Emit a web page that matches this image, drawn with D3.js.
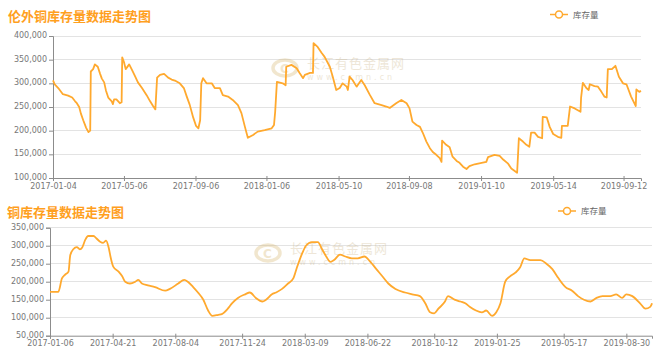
<!DOCTYPE html>
<html><head><meta charset="utf-8">
<script src="https://cdn.jsdelivr.net/npm/d3@7"></script>
<style>
html,body{margin:0;padding:0;background:#fff;}
svg{display:block;}
</style></head>
<body>
<svg id="c" width="658" height="359"></svg>
<script>
// ---------- Chart 1: 伦外铜库存量 ----------
const title1 = "伦外铜库存量数据走势图";
const seriesName = "库存量";
const dates1 = ["2017-01-04","2017-01-07","2017-01-13","2017-01-21","2017-01-30","2017-02-06","2017-02-11","2017-02-14","2017-02-18","2017-02-21","2017-02-25","2017-03-02","2017-03-06","2017-03-09","2017-03-10","2017-03-14","2017-03-17","2017-03-22","2017-03-26","2017-03-29","2017-04-02","2017-04-05","2017-04-09","2017-04-15","2017-04-17","2017-04-19","2017-04-23","2017-04-29","2017-05-02","2017-05-03","2017-05-06","2017-05-09","2017-05-15","2017-05-20","2017-05-25","2017-05-30","2017-06-06","2017-06-14","2017-06-20","2017-06-25","2017-06-29","2017-07-02","2017-07-07","2017-07-14","2017-07-21","2017-07-27","2017-08-03","2017-08-10","2017-08-17","2017-08-22","2017-08-27","2017-09-02","2017-09-07","2017-09-11","2017-09-14","2017-09-16","2017-09-19","2017-09-25","2017-10-04","2017-10-09","2017-10-18","2017-10-23","2017-11-01","2017-11-09","2017-11-18","2017-11-24","2017-11-30","2017-12-05","2017-12-14","2017-12-22","2018-01-03","2018-01-15","2018-01-19","2018-01-21","2018-01-24","2018-02-03","2018-02-08","2018-02-09","2018-02-18","2018-02-27","2018-03-04","2018-03-10","2018-03-13","2018-03-22","2018-03-27","2018-03-28","2018-04-04","2018-04-11","2018-04-16","2018-04-25","2018-04-30","2018-05-06","2018-05-12","2018-05-17","2018-05-24","2018-05-26","2018-05-29","2018-06-03","2018-06-10","2018-06-18","2018-06-24","2018-07-03","2018-07-11","2018-07-23","2018-07-31","2018-08-06","2018-08-17","2018-08-26","2018-09-04","2018-09-09","2018-09-14","2018-09-21","2018-09-27","2018-10-02","2018-10-08","2018-10-14","2018-10-19","2018-10-25","2018-10-31","2018-11-03","2018-11-04","2018-11-11","2018-11-17","2018-11-22","2018-11-29","2018-12-04","2018-12-10","2018-12-16","2018-12-21","2018-12-30","2019-01-11","2019-01-19","2019-01-22","2019-02-02","2019-02-11","2019-02-17","2019-02-25","2019-03-03","2019-03-13","2019-03-16","2019-03-23","2019-03-29","2019-04-03","2019-04-06","2019-04-12","2019-04-18","2019-04-25","2019-04-26","2019-05-03","2019-05-08","2019-05-14","2019-05-22","2019-05-28","2019-05-29","2019-06-08","2019-06-12","2019-06-20","2019-06-30","2019-07-01","2019-07-04","2019-07-10","2019-07-14","2019-07-16","2019-07-24","2019-07-30","2019-08-05","2019-08-10","2019-08-14","2019-08-16","2019-08-23","2019-08-29","2019-09-04","2019-09-11","2019-09-17","2019-09-25","2019-10-03","2019-10-04","2019-10-09","2019-10-12"];
const values1 = [306000,298000,290000,277000,274000,270000,262000,258000,250000,236000,222000,206000,197000,200000,325000,330000,340000,335000,320000,310000,302000,285000,270000,262000,256000,266000,266000,258000,260000,355000,345000,330000,340000,328000,315000,302000,290000,275000,262000,252000,245000,312000,318000,320000,312000,308000,305000,300000,290000,272000,255000,228000,210000,205000,222000,300000,311000,300000,300000,290000,290000,275000,272000,265000,254000,237000,208000,185000,191000,198000,201000,205000,212000,240000,303000,300000,296000,335000,339000,332000,322000,311000,318000,322000,322000,385000,377000,364000,356000,335000,314000,286000,290000,300000,293000,286000,314000,307000,293000,307000,296000,275000,258000,254000,251000,248000,258000,265000,258000,247000,219000,212000,208000,195000,177000,163000,155000,149000,142000,134000,179000,170000,165000,145000,136000,132000,124000,119000,125000,129000,132000,134000,144000,149000,146500,139000,131000,120000,111000,184000,177000,170000,166000,196000,196000,187000,184000,229000,228000,208000,193000,187000,185000,210000,210000,251000,247000,240000,270000,301000,290000,286000,298000,294000,293000,282000,272000,270000,330000,330000,337000,314000,300000,298000,272000,252000,287000,282000,284000];
const yTicks1 = [100000,150000,200000,250000,300000,350000,400000];
const xTicks1 = ["2017-01-04","2017-05-06","2017-09-06","2018-01-06","2018-05-10","2018-09-08","2019-01-10","2019-05-14","2019-09-12"];

// ---------- Chart 2: 铜库存量 ----------
const title2 = "铜库存量数据走势图";
const dates2 = ["2017-01-06","2017-01-20","2017-01-26","2017-01-31","2017-02-06","2017-02-09","2017-02-14","2017-02-20","2017-02-25","2017-03-01","2017-03-06","2017-03-11","2017-03-20","2017-03-25","2017-03-31","2017-04-05","2017-04-10","2017-04-14","2017-04-18","2017-04-22","2017-05-01","2017-05-07","2017-05-12","2017-05-20","2017-05-29","2017-06-03","2017-06-09","2017-06-19","2017-07-01","2017-07-18","2017-07-26","2017-08-09","2017-08-19","2017-08-25","2017-09-03","2017-09-11","2017-09-20","2017-09-28","2017-10-05","2017-10-15","2017-10-21","2017-10-31","2017-11-07","2017-11-17","2017-11-29","2017-12-07","2017-12-17","2017-12-28","2018-01-03","2018-01-13","2018-01-20","2018-01-30","2018-02-09","2018-02-18","2018-02-24","2018-03-05","2018-03-11","2018-03-21","2018-03-31","2018-04-07","2018-04-14","2018-04-21","2018-04-27","2018-05-07","2018-05-16","2018-05-27","2018-06-06","2018-06-17","2018-06-27","2018-07-07","2018-07-17","2018-07-27","2018-08-08","2018-08-24","2018-09-05","2018-09-18","2018-09-27","2018-10-05","2018-10-12","2018-10-19","2018-10-30","2018-11-04","2018-11-15","2018-11-25","2018-12-03","2018-12-11","2018-12-21","2018-12-31","2019-01-07","2019-01-17","2019-01-24","2019-01-31","2019-02-08","2019-02-16","2019-02-25","2019-03-05","2019-03-12","2019-03-22","2019-04-08","2019-04-18","2019-04-28","2019-05-08","2019-05-20","2019-05-31","2019-06-10","2019-06-20","2019-07-01","2019-07-11","2019-07-21","2019-08-03","2019-08-13","2019-08-23","2019-08-30","2019-09-09","2019-09-22","2019-10-01","2019-10-09","2019-10-12"];
const values2 = [172000,172000,209000,219000,228000,274000,290000,296000,290000,295000,316000,327000,327000,320000,311000,308000,314000,297000,265000,242000,228000,215000,200000,195000,200000,205000,195000,190000,185000,175000,180000,195000,205000,200000,185000,170000,150000,120000,105000,108000,110000,125000,140000,155000,165000,170000,155000,145000,150000,165000,170000,180000,195000,210000,240000,280000,300000,310000,310000,290000,270000,255000,260000,275000,270000,265000,265000,270000,255000,235000,215000,195000,180000,170000,165000,160000,140000,115000,112000,125000,145000,160000,150000,145000,140000,130000,120000,115000,120000,105000,115000,140000,200000,215000,225000,240000,265000,260000,260000,250000,235000,210000,185000,175000,160000,150000,145000,155000,160000,160000,165000,155000,165000,160000,140000,125000,130000,140000];
const yTicks2 = [50000,100000,150000,200000,250000,300000,350000];
const xTicks2 = ["2017-01-06","2017-04-21","2017-08-04","2017-11-24","2018-03-09","2018-06-22","2018-10-12","2019-01-25","2019-05-17","2019-08-30"];

const parse = d3.timeParse("%Y-%m-%d");
const fmtNum = d3.format(",");
const fmtDate = d3.timeFormat("%Y-%m-%d");
const LINE = "#ffa92e";
const TITLE = "#ffa01e";
const svg = d3.select("#c");

function drawChart(cfg){
  const g = svg.append("g");
  const x = d3.scaleTime().domain(cfg.xDomain.map(parse)).range([cfg.left, cfg.right]);
  const y = d3.scaleLinear().domain([cfg.yTicks[0], cfg.yTicks[cfg.yTicks.length-1]]).range([cfg.bottom, cfg.top]);

  // title
  g.append("text").attr("x", cfg.titleX).attr("y", cfg.titleY)
    .attr("font-family","'Noto Sans CJK SC', sans-serif").attr("font-size",13).attr("font-weight","bold")
    .attr("fill",TITLE).text(cfg.title);

  // legend
  const lg = g.append("g").attr("transform",`translate(${cfg.legX},${cfg.legY})`);
  lg.append("line").attr("x1",0).attr("x2",18).attr("y1",0).attr("y2",0).attr("stroke",LINE).attr("stroke-width",1.5);
  lg.append("circle").attr("cx",9).attr("cy",0).attr("r",3.5).attr("fill","#fff").attr("stroke",LINE).attr("stroke-width",1.5);
  lg.append("text").attr("x",23).attr("y",3).attr("font-family","'Noto Sans CJK SC', sans-serif")
    .attr("font-size",8.5).attr("fill","#666").text(seriesName);

  // grid
  g.append("g").selectAll("line").data(cfg.yTicks.slice(1)).join("line")
    .attr("x1",cfg.left).attr("x2",cfg.right).attr("y1",d=>y(d)).attr("y2",d=>y(d))
    .attr("stroke","#e3e3e3").attr("stroke-width",1).attr("shape-rendering","crispEdges");

  // watermark
  const wm = g.append("g").attr("opacity",0.3).attr("transform",`translate(${cfg.wmX},${cfg.wmY})`);
  wm.append("ellipse").attr("cx",0).attr("cy",0).attr("rx",12).attr("ry",8).attr("fill","none").attr("stroke","#d4b060").attr("stroke-width",3.5);
  wm.append("text").attr("x",-5).attr("y",4.5).attr("font-size",12).attr("font-weight","bold").attr("fill","#d4b060").attr("font-family","DejaVu Sans").text("C");
  wm.append("text").attr("x",22).attr("y",0).attr("font-size",13).attr("fill","#c8b080").attr("font-family","'Noto Sans CJK SC', sans-serif").attr("letter-spacing",1).text("长江有色金属网");
  wm.append("text").attr("x",22).attr("y",12).attr("font-size",8).attr("fill","#c8b080").attr("font-family","DejaVu Sans").attr("letter-spacing",3).text("www.ccmn.cn");

  // axes
  const yAxis = d3.axisLeft(y).tickValues(cfg.yTicks).tickFormat(fmtNum).tickSize(4).tickPadding(2);
  const ya = g.append("g").attr("transform",`translate(${cfg.left},0)`).call(yAxis);
  const xAxis = d3.axisBottom(x).tickValues(cfg.xTicks.map(parse)).tickFormat(fmtDate).tickSize(3).tickPadding(2);
  const xa = g.append("g").attr("transform",`translate(0,${cfg.bottom})`).call(xAxis);
  [ya,xa].forEach(a=>{
    a.select(".domain").attr("stroke","#8c8c8c");
    a.selectAll(".tick line").attr("stroke","#8c8c8c");
    a.selectAll("text").attr("font-family","'DejaVu Sans', sans-serif").attr("font-size",8).attr("fill","#777");
  });
  ya.selectAll("text").attr("dy","0.2em");
  xa.selectAll(".tick line").attr("y1",-2);

  // line
  const data = cfg.dates.map((d,i)=>({d:parse(d), v:cfg.values[i]}));
  g.append("path").datum(data)
    .attr("d", d3.line().x(p=>x(p.d)).y(p=>y(p.v)).curve(cfg.curve))
    .attr("fill","none").attr("stroke",LINE).attr("stroke-width",1.8).attr("stroke-linejoin","round");
}

drawChart({title:title1, titleX:8, titleY:21, legX:550, legY:14.5,
  dates:dates1, values:values1, yTicks:yTicks1, xTicks:xTicks1,
  xDomain:["2017-01-04","2019-10-12"], left:53, right:641, top:36, bottom:178,
  wmX:285, wmY:68, curve:d3.curveLinear});

drawChart({title:title2, titleX:7, titleY:216.5, legX:558, legY:211,
  dates:dates2, values:values2, yTicks:yTicks2, xTicks:xTicks2,
  xDomain:["2017-01-06","2019-10-12"], left:50, right:652, top:227.7, bottom:335.7,
  wmX:268, wmY:253, curve:d3.curveMonotoneX});
</script>
</body></html>
